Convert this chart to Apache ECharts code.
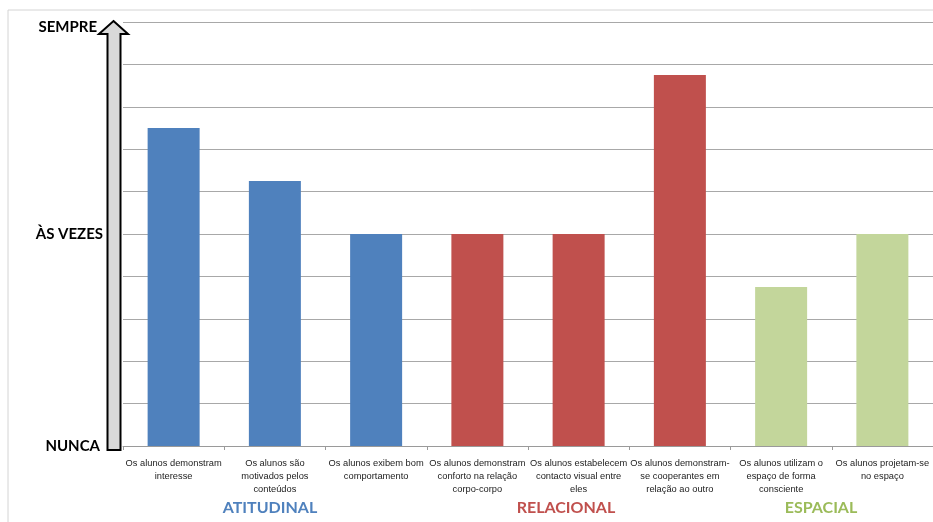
<!DOCTYPE html>
<html>
<head>
<meta charset="utf-8">
<script src="https://cdn.jsdelivr.net/npm/echarts@6/dist/echarts.min.js"></script>
<style>
  html, body { margin: 0; padding: 0; background: #fff; }
  #chart { width: 933px; height: 522px; }
</style>
</head>
<body>
<div id="chart"></div>
<script>
// categorias (eixo x)
const categories = [
  'Os alunos demonstram\ninteresse',
  'Os alunos são\nmotivados pelos\nconteúdos',
  'Os alunos exibem bom\ncomportamento',
  'Os alunos demonstram\nconforto na relação\ncorpo-corpo',
  'Os alunos estabelecem\ncontacto visual entre\neles',
  'Os alunos demonstram-\nse cooperantes em\nrelação ao outro',
  'Os alunos utilizam o\nespaço de forma\nconsciente',
  'Os alunos projetam-se\nno espaço'
]
// valores (0 = nunca, 5 = às vezes, 10 = sempre)
const values = [7.5, 6.25, 5, 5, 5, 8.75, 3.75, 5]
// grupo de cada barra
const groupOf = [0, 0, 0, 1, 1, 1, 2, 2]
const groups = ['ATITUDINAL', 'RELACIONAL', 'ESPACIAL']
const barColors = ['#4f81bd', '#c0504d', '#c3d69b']
const groupTextColors = ['#4f81bd', '#c0504d', '#9bbb59']
// rótulos do eixo y
const yTickLabels = ['NUNCA', '', '', '', '', 'ÀS VEZES', '', '', '', '', 'SEMPRE']

const chart = echarts.init(document.getElementById('chart'))

const yFont = { fontFamily: 'Lato', fontWeight: 'bold', fontSize: 15, color: '#000' }

const option = {
  animation: false,
  grid: { top: 22, left: 123, width: 814, height: 424 },
  xAxis: {
    type: 'category',
    data: categories,
    axisLine: { lineStyle: { color: '#9a9a9a' } },
    axisTick: { show: true, length: 4, lineStyle: { color: '#9a9a9a' } },
    axisLabel: {
      interval: 0,
      margin: 11,
      fontFamily: 'Liberation Sans',
      fontSize: 9.3,
      lineHeight: 13,
      color: '#222'
    }
  },
  yAxis: {
    type: 'value',
    min: 0,
    max: 10,
    interval: 1,
    axisLine: { show: false },
    axisTick: { show: false },
    splitLine: { lineStyle: { color: '#a8a8a8', width: 1 } },
    axisLabel: {
      margin: 20,
      formatter: (v) => {
        const t = yTickLabels[Math.round(v)]
        if (!t) return ''
        if (v === 10) return '{top|' + t + '}'
        if (v === 0) return '{bot|' + t + '}'
        return '{n|' + t + '}'
      },
      rich: {
        top: Object.assign({ padding: [10, 6, 0, 0] }, yFont),
        bot: Object.assign({ padding: [0, 3, 0, 0] }, yFont),
        n: yFont
      }
    }
  },
  series: [{
    type: 'bar',
    barWidth: 52,
    data: values.map((v, i) => ({ value: v, itemStyle: { color: barColors[groupOf[i]] } }))
  }],
  graphic: [
    // moldura
    { type: 'polyline', shape: { points: [[8, 522], [8, 10], [933, 10]] }, style: { stroke: '#d4d4d4', lineWidth: 1, fill: null } },
    // seta do eixo y
    {
      type: 'polygon',
      shape: { points: [[113.5, 21], [128, 34], [120.5, 34], [120.5, 450], [107.5, 450], [107.5, 34], [99, 34]] },
      style: { fill: '#d9d9d9', stroke: '#000', lineWidth: 2 },
      z: 10
    },
    // nomes dos grupos
    { type: 'text', x: 270, y: 508, style: { text: groups[0], fill: groupTextColors[0], font: 'bold 16px Lato', align: 'center', verticalAlign: 'middle' } },
    { type: 'text', x: 566, y: 508, style: { text: groups[1], fill: groupTextColors[1], font: 'bold 16px Lato', align: 'center', verticalAlign: 'middle' } },
    { type: 'text', x: 821, y: 508, style: { text: groups[2], fill: groupTextColors[2], font: 'bold 16px Lato', align: 'center', verticalAlign: 'middle' } }
  ]
}

chart.setOption(option)
</script>
</body>
</html>
